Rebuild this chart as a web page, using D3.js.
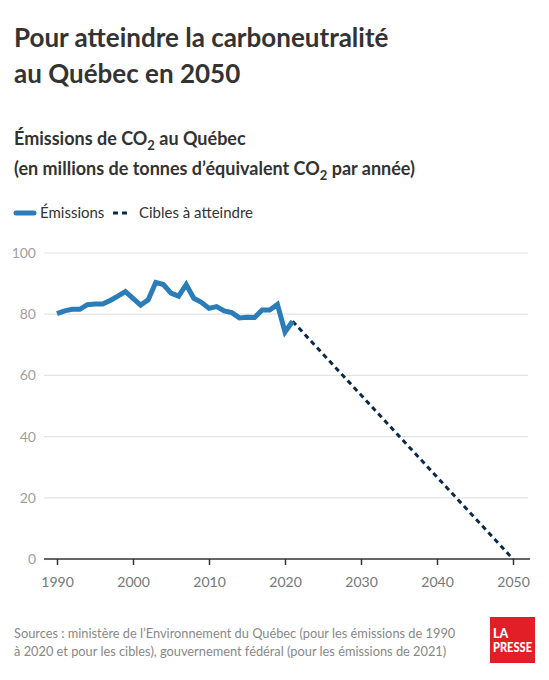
<!DOCTYPE html>
<html><head><meta charset="utf-8">
<script src="https://cdn.jsdelivr.net/npm/d3@7"></script>
<style>
body{margin:0;background:#fff;}
svg{display:block;font-family:Lato,"Noto Sans",sans-serif;}
</style></head>
<body>
<script>
const years = [1990,1991,1992,1993,1994,1995,1996,1997,1998,1999,2000,2001,2002,2003,2004,2005,2006,2007,2008,2009,2010,2011,2012,2013,2014,2015,2016,2017,2018,2019,2020,2021];
const emissions = [80.2,81.1,81.6,81.6,83.1,83.3,83.3,84.5,85.9,87.4,85.2,83.0,84.7,90.4,89.7,86.9,85.9,89.7,85.2,83.9,81.9,82.5,81.1,80.5,78.8,79.0,78.9,81.4,81.4,83.2,74.2,77.7];
const targetYears = [2021,2050];
const targetValues = [77.7,0];
const yTicks = [0,20,40,60,80,100];
const xTicks = [1990,2000,2010,2020,2030,2040,2050];

const W=549,H=680;
const svg=d3.select("body").append("svg").attr("width",W).attr("height",H);
const x=d3.scaleLinear().domain([1990,2050]).range([57,513]);
const y=d3.scaleLinear().domain([0,100]).range([559,253]);

// titles
const t=svg.append("g").attr("fill","#333");
t.append("text").attr("x",14).attr("y",47).attr("font-size",26).attr("font-weight",700).text("Pour atteindre la carboneutralité");
t.append("text").attr("x",14).attr("y",83).attr("font-size",26).attr("font-weight",700).text("au Québec en 2050");
const s1=t.append("text").attr("x",14).attr("y",145).attr("font-size",18).attr("font-weight",700);
s1.append("tspan").text("Émissions de CO");
s1.append("tspan").attr("font-size",13).attr("dy",5).text("2");
s1.append("tspan").attr("dy",-5).text(" au Québec");
const s2=t.append("text").attr("x",14).attr("y",175).attr("font-size",18).attr("font-weight",700);
s2.append("tspan").text("(en millions de tonnes d’équivalent CO");
s2.append("tspan").attr("font-size",13).attr("dy",5).text("2");
s2.append("tspan").attr("dy",-5).text(" par année)");

// legend
const lg=svg.append("g");
lg.append("line").attr("x1",16).attr("x2",34).attr("y1",213).attr("y2",213).attr("stroke","#2a7db8").attr("stroke-width",5).attr("stroke-linecap","round");
lg.append("text").attr("x",40).attr("y",218).attr("font-size",15).attr("fill","#333").text("Émissions");
lg.append("line").attr("x1",113).attr("x2",131).attr("y1",213).attr("y2",213).attr("stroke","#0b2a4a").attr("stroke-width",3).attr("stroke-dasharray","5,4");
lg.append("text").attr("x",139).attr("y",218).attr("font-size",15).attr("fill","#333").text("Cibles à atteindre");

// grid
const yAxis=d3.axisLeft(y).tickValues(yTicks).tickSize(0).tickPadding(8);
const gy=svg.append("g").attr("transform","translate(44,0)").call(yAxis);
gy.select(".domain").remove();
gy.selectAll("text").attr("fill","#a0a0a0").attr("font-size",14).attr("font-family","Lato,sans-serif");
svg.append("g").selectAll("line").data(yTicks.filter(d=>d>0)).join("line")
  .attr("x1",44).attr("x2",528).attr("y1",d=>y(d)).attr("y2",d=>y(d))
  .attr("stroke","#e3e3e3").attr("stroke-width",1.2);

// x axis
const xAxis=d3.axisBottom(x).tickValues(xTicks).tickFormat(d3.format("d")).tickSize(6).tickPadding(12);
const gx=svg.append("g").attr("transform",`translate(0,${y(0)})`).call(xAxis);
gx.select(".domain").attr("d",`M44,0H530`).attr("stroke","#333").attr("stroke-width",1.5);
gx.selectAll(".tick line").attr("stroke","#333").attr("stroke-width",1.5);
gx.selectAll("text").attr("fill","#777").attr("font-size",14).attr("font-family","Lato,sans-serif");

// lines
const line=d3.line().x(d=>x(d[0])).y(d=>y(d[1]));
svg.append("path").datum(targetYears.map((d,i)=>[d,targetValues[i]]))
  .attr("d",line).attr("fill","none").attr("stroke","#0b2a4a").attr("stroke-width",3).attr("stroke-dasharray","5,4");
svg.append("path").datum(years.map((d,i)=>[d,emissions[i]]))
  .attr("d",line).attr("fill","none").attr("stroke","#2a7db8").attr("stroke-width",5).attr("stroke-linejoin","miter").attr("stroke-linecap","butt");

// footer
const f=svg.append("g").attr("fill","#888").attr("font-size",12.8);
f.append("text").attr("x",14).attr("y",638).text("Sources : ministère de l’Environnement du Québec (pour les émissions de 1990");
f.append("text").attr("x",14).attr("y",656).text("à 2020 et pour les cibles), gouvernement fédéral (pour les émissions de 2021)");

// logo
const lo=svg.append("g");
lo.append("rect").attr("x",490).attr("y",617).attr("width",45).attr("height",46).attr("fill","#e21e26");
lo.append("text").attr("x",493).attr("y",638).attr("fill","#fff").attr("font-size",12.5).attr("font-weight",900).attr("font-family","Lato,sans-serif").text("LA");
lo.append("text").attr("x",493).attr("y",652).attr("fill","#fff").attr("font-size",12.5).attr("font-weight",900).attr("font-family","Lato,sans-serif").attr("textLength",39).attr("lengthAdjust","spacingAndGlyphs").text("PRESSE");
</script>
</body></html>
